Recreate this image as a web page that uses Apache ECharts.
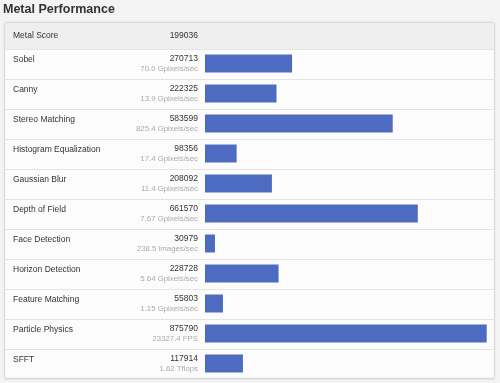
<!DOCTYPE html>
<html>
<head>
<meta charset="utf-8">
<script src="https://cdn.jsdelivr.net/npm/echarts@6/dist/echarts.min.js"></script>
<style>
  html, body { margin: 0; padding: 0; background: #f3f3f3; }
  #chart { width: 500px; height: 383px; }
</style>
</head>
<body>
<div id="chart"></div>
<script>
// data
const headerName = 'Metal Score'
const headerScore = '199036'
const tests = ['Sobel', 'Canny', 'Stereo Matching', 'Histogram Equalization', 'Gaussian Blur',
  'Depth of Field', 'Face Detection', 'Horizon Detection', 'Feature Matching', 'Particle Physics', 'SFFT']
const scores = [270713, 222325, 583599, 98356, 208092, 661570, 30979, 228728, 55803, 875790, 117914]
const rates = ['70.0 Gpixels/sec', '13.9 Gpixels/sec', '825.4 Gpixels/sec', '17.4 Gpixels/sec',
  '11.4 Gpixels/sec', '7.67 Gpixels/sec', '238.5 images/sec', '5.64 Gpixels/sec',
  '1.15 Gpixels/sec', '23327.4 FPS', '1.62 Tflops']

const FONT = "'Helvetica Neue', Helvetica, Arial, 'Liberation Sans', sans-serif"

const chart = echarts.init(document.getElementById('chart'))

const option = {
  backgroundColor: '#f3f3f3',
  animation: false,
  textStyle: { fontFamily: FONT },
  title: {
    text: 'Metal Performance',
    left: 3,
    top: 3.5,
    padding: 0,
    textStyle: { fontSize: 12.5, fontWeight: 'bold', color: '#333', fontFamily: FONT }
  },
  graphic: [
    // panel
    {
      type: 'rect', z: -10,
      shape: { x: 4.5, y: 22.5, width: 490, height: 356, r: 2 },
      style: { fill: '#fcfcfc', stroke: '#dadada', lineWidth: 1, shadowBlur: 2, shadowColor: 'rgba(0,0,0,0.08)' }
    },
    // header row
    {
      type: 'rect', z: -9,
      shape: { x: 5, y: 23, width: 489, height: 26.5 },
      style: { fill: '#efefef' }
    },
    {
      type: 'text', left: 13, top: 31.5,
      style: { text: headerName, font: '8.5px ' + FONT, fill: '#333' }
    },
    {
      type: 'text', right: 302, top: 31.5,
      style: { text: headerScore, font: '8.5px ' + FONT, fill: '#333', textAlign: 'right' }
    }
  ],
  grid: [
    { left: 4.5, right: 5.5, top: 49.5, height: 330 },
    { left: 205, right: 13.3, top: 48.5, height: 330 }
  ],
  xAxis: [
    { gridIndex: 0, type: 'value', show: false, min: 0, max: 1 },
    { gridIndex: 1, type: 'value', show: false, min: 0, max: 875790 }
  ],
  yAxis: [
    {
      gridIndex: 0,
      type: 'category',
      inverse: true,
      data: tests,
      axisLine: { show: false },
      axisTick: { show: false },
      splitLine: { show: true, lineStyle: { color: '#e4e4e4', width: 1 } },
      axisLabel: {
        inside: true,
        margin: 8.5,
        formatter: (v) => `{n|${v}}\n{e| }`,
        rich: {
          n: { fontSize: 8.5, color: '#333', lineHeight: 10, fontFamily: FONT },
          e: { fontSize: 8, lineHeight: 10 }
        }
      }
    },
    {
      gridIndex: 1,
      type: 'category',
      inverse: true,
      data: tests,
      axisLine: { show: false },
      axisTick: { show: false },
      axisLabel: {
        margin: 7,
        align: 'right',
        formatter: (v, i) => `{v|${scores[i]}}\n{u|${rates[i]}}`,
        rich: {
          v: { fontSize: 8.5, color: '#333', lineHeight: 10, align: 'right', fontFamily: FONT },
          u: { fontSize: 7.8, color: '#aaa', lineHeight: 10, align: 'right', fontFamily: FONT }
        }
      }
    }
  ],
  series: [{
    type: 'bar',
    xAxisIndex: 1,
    yAxisIndex: 1,
    data: scores,
    barWidth: 18,
    itemStyle: { color: '#4e6bc2' },
    silent: true
  }]
}

chart.setOption(option)
</script>
</body>
</html>
